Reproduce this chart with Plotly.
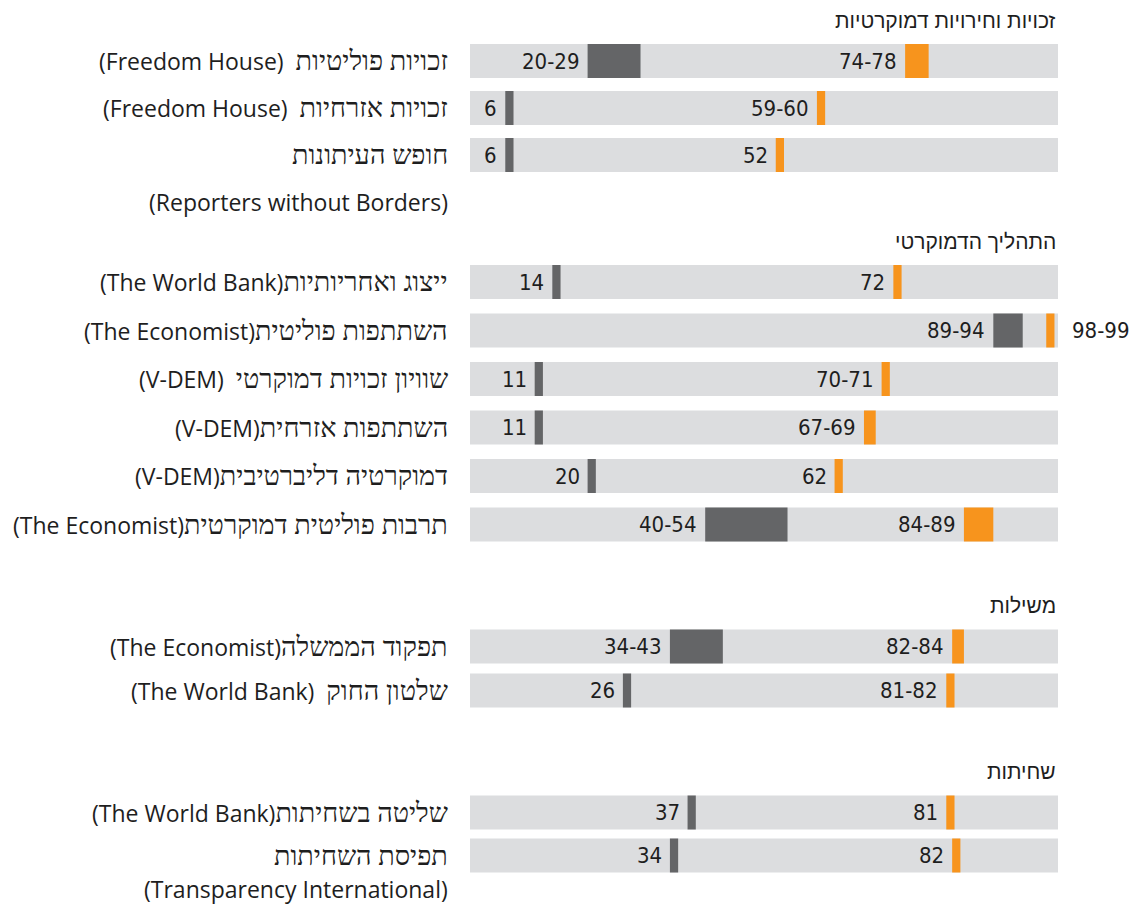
import plotly.graph_objects as go

# Data
SECTION_TITLES = [
    "זכויות וחירויות דמוקרטיות",
    "התהליך הדמוקרטי",
    "משילות",
    "שחיתות",
]
ROW_SECTION = [0, 0, 0, 1, 1, 1, 1, 1, 1, 2, 2, 3, 3]
INDICATORS = [
    "זכויות פוליטיות",
    "זכויות אזרחיות",
    "חופש העיתונות",
    "ייצוג ואחריותיות",
    "השתתפות פוליטית",
    "שוויון זכויות דמוקרטי",
    "השתתפות אזרחית",
    "דמוקרטיה דליברטיבית",
    "תרבות פוליטית דמוקרטית",
    "תפקוד הממשלה",
    "שלטון החוק",
    "שליטה בשחיתות",
    "תפיסת השחיתות",
]
SOURCES = [
    "Freedom House",
    "Freedom House",
    "Reporters without Borders",
    "The World Bank",
    "The Economist",
    "V-DEM",
    "V-DEM",
    "V-DEM",
    "The Economist",
    "The Economist",
    "The World Bank",
    "The World Bank",
    "Transparency International",
]
LOW_MIN = [20, 6, 6, 14, 89, 11, 11, 20, 40, 34, 26, 37, 34]
LOW_MAX = [29, 6, 6, 14, 94, 11, 11, 20, 54, 43, 26, 37, 34]
HIGH_MIN = [74, 59, 52, 72, 98, 70, 67, 62, 84, 82, 81, 81, 82]
HIGH_MAX = [78, 60, 52, 72, 99, 71, 69, 62, 89, 84, 82, 81, 82]

# Styling
GRAY_BG = "#dcdddf"
DARK = "#646567"
ORANGE = "#f7941d"
TEXT = "#1e1e1e"
NUM_FONT = "DejaVu Sans Condensed, Liberation Sans Narrow, Roboto"
HEB_FONT = "Liberation Sans Narrow"
SRC_FONT = "Open Sans"
TITLE_FONT = "Liberation Sans, Open Sans, DejaVu Sans"

W, H = 1133, 904
X0_PX, X100_PX = 470, 1058
LABEL_RIGHT_PX = 450
BAR_H = 34
MIN_W = 1.4

# vertical layout (px from top)
SECTION_STEP = {0: 47, 1: 48.5, 2: 44, 3: 43}
WRAPPED = {2, 12}
GAP_LABEL = {0, 1, 5, 10}

title_y = []
row_y = []
src_y = {}
cursor = 20
prev_section = None
for i, sec in enumerate(ROW_SECTION):
    if sec != prev_section:
        if prev_section is not None:
            cursor += 39 if (i - 1) in WRAPPED else 81
        title_y.append(cursor)
        cursor += 41
        prev_section = sec
    else:
        cursor += SECTION_STEP[sec]
    row_y.append(cursor)
    if i in WRAPPED:
        cursor += 33 if i == len(ROW_SECTION) - 1 else 47
        src_y[i] = cursor

low_w = [max(b - a, MIN_W) for a, b in zip(LOW_MIN, LOW_MAX)]
high_w = [max(b - a, MIN_W) for a, b in zip(HIGH_MIN, HIGH_MAX)]

fig = go.Figure()
fig.add_trace(go.Bar(y=row_y, x=[100] * len(row_y), base=0, orientation="h",
                     width=BAR_H, marker=dict(color=GRAY_BG, line_width=0),
                     hoverinfo="skip"))
fig.add_trace(go.Bar(y=row_y, x=low_w, base=LOW_MIN, orientation="h",
                     width=BAR_H, marker=dict(color=DARK, line_width=0),
                     hoverinfo="skip"))
fig.add_trace(go.Bar(y=row_y, x=high_w, base=HIGH_MIN, orientation="h",
                     width=BAR_H, marker=dict(color=ORANGE, line_width=0),
                     hoverinfo="skip"))


def rng(a, b):
    return f"{a}" if a == b else f"{a}-{b}"


num_font = dict(family=NUM_FONT, size=22, color=TEXT)
src_font = dict(family=SRC_FONT, size=23, color=TEXT)
ann = []
for i, y in enumerate(row_y):
    ann.append(dict(x=LOW_MIN[i], y=y, xref="x", yref="y", text=rng(LOW_MIN[i], LOW_MAX[i]),
                    xanchor="right", yanchor="middle", xshift=-6, showarrow=False,
                    font=num_font))
    if HIGH_MIN[i] - LOW_MAX[i] < 8:
        # no room between the markers: put the label past the end of the bar
        ann.append(dict(x=100, y=y, xref="x", yref="y", text=rng(HIGH_MIN[i], HIGH_MAX[i]),
                        xanchor="left", yanchor="middle", xshift=12, showarrow=False,
                        font=num_font))
    else:
        ann.append(dict(x=HIGH_MIN[i], y=y, xref="x", yref="y", text=rng(HIGH_MIN[i], HIGH_MAX[i]),
                        xanchor="right", yanchor="middle", xshift=-6, showarrow=False,
                        font=num_font))

    heb = f"<span style=\"font-family:'{HEB_FONT}';font-size:27px\">{INDICATORS[i]}</span>"
    if i in WRAPPED:
        text = heb
        ann.append(dict(x=LABEL_RIGHT_PX / W, y=src_y[i], xref="paper", yref="y",
                        text=f"({SOURCES[i]})", xanchor="right", yanchor="middle",
                        showarrow=False, font=src_font))
    else:
        sep = "  " if i in GAP_LABEL else ""
        text = f"({SOURCES[i]}){sep}{heb}"
    ann.append(dict(x=LABEL_RIGHT_PX / W, y=y, xref="paper", yref="y", text=text,
                    xanchor="right", yanchor="middle", showarrow=False,
                    font=src_font))

for t, y in zip(SECTION_TITLES, title_y):
    ann.append(dict(x=X100_PX / W, y=y, xref="paper", yref="y", text=t,
                    xanchor="right", yanchor="middle", showarrow=False,
                    font=dict(family=TITLE_FONT, size=21, color=TEXT)))

px_per_unit = (X100_PX - X0_PX) / 100
fig.update_layout(
    width=W, height=H,
    margin=dict(l=0, r=0, t=0, b=0),
    barmode="overlay",
    showlegend=False,
    plot_bgcolor="white",
    paper_bgcolor="white",
    xaxis=dict(range=[-X0_PX / px_per_unit, (W - X0_PX) / px_per_unit], visible=False, fixedrange=True),
    yaxis=dict(range=[H, 0], visible=False, fixedrange=True),
    annotations=ann,
)

# drop the default body margin so the figure fills the window exactly
fig.write_html(
    "out.html",
    config={"displayModeBar": False},
    post_script="document.body.style.margin='0';document.body.style.overflow='hidden';",
)
